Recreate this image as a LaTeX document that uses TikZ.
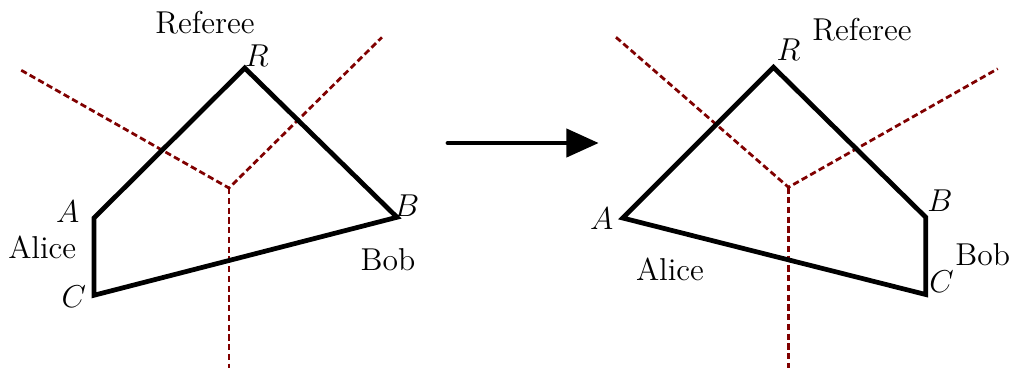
\documentclass[tikz,border=0pt]{standalone}
\usepackage{xcolor}
\usepackage{tikz}
\usetikzlibrary{positioning,arrows.meta}
\definecolor{bisect}{HTML}{800000}

\begin{document}
\begin{tikzpicture}[
  lbl/.style={font=\large,inner sep=1pt},
  poly/.style={black,line width=1.8pt},
  cut/.style={bisect,line width=1.05pt,dash pattern=on 2.4pt off 1.3pt},
  a/.style={-{Triangle[length=4.3mm,width=3.7mm]},line width=1.8pt,line cap=round}]
\useasboundingbox (-1.253,-2.013) rectangle (12.24,2.907);
% before
\coordinate (lA) at (0,0);
\coordinate (lC) at (0,-1.03);
\coordinate (lR) at (2.01,2);
\coordinate (lB) at (4.04,0.01);
\coordinate (lO) at (1.8,0.4);
\coordinate (lO1) at (-0.97,1.97);
\coordinate (lO2) at (3.84,2.41);
\coordinate (lO3) at (1.8,-2.0);
\draw[cut] (lO1)--(lO)--(lO2);
\draw[cut] (lO)--(lO3);
\draw[poly] (lA)--(lR)--(lB)--(lC)--cycle;
\node[lbl] (lRef) at (1.48,2.61) {Referee};
\node[lbl] (lRl) at (2.17,2.17) {$R$};
\node[lbl] (lAl) at (-0.35,0.08) {$A$};
\node[lbl] (lAlice) at (-0.69,-0.39) {Alice};
\node[lbl] (lCl) at (-0.27,-1.05) {$C$};
\node[lbl] (lBl) at (4.17,0.17) {$B$};
\node[lbl] (lBob) at (3.92,-0.56) {Bob};
% the step
\coordinate (s0) at (4.72,1.0);
\coordinate (s1) at (6.73,1.0);
\draw[a] (s0)--(s1);
% after
\coordinate (rA) at (7.05,0);
\coordinate (rR) at (9.06,2.01);
\coordinate (rB) at (11.09,0.01);
\coordinate (rC) at (11.09,-1.02);
\coordinate (rO) at (9.26,0.41);
\coordinate (rO1) at (6.96,2.41);
\coordinate (rO2) at (12.05,1.99);
\coordinate (rO3) at (9.26,-2.0);
\draw[cut] (rO1)--(rO)--(rO2);
\draw[cut] (rO)--(rO3);
\draw[poly] (rA)--(rR)--(rB)--(rC)--cycle;
\node[lbl] (rRef) at (10.24,2.51) {Referee};
\node[lbl] (rRl) at (9.26,2.24) {$R$};
\node[lbl] (rAl) at (6.77,-0.01) {$A$};
\node[lbl] (rAlice) at (7.68,-0.69) {Alice};
\node[lbl] (rBl) at (11.28,0.23) {$B$};
\node[lbl] (rCl) at (11.30,-0.85) {$C$};
\node[lbl] (rBob) at (11.85,-0.49) {Bob};
\end{tikzpicture}
\end{document}
